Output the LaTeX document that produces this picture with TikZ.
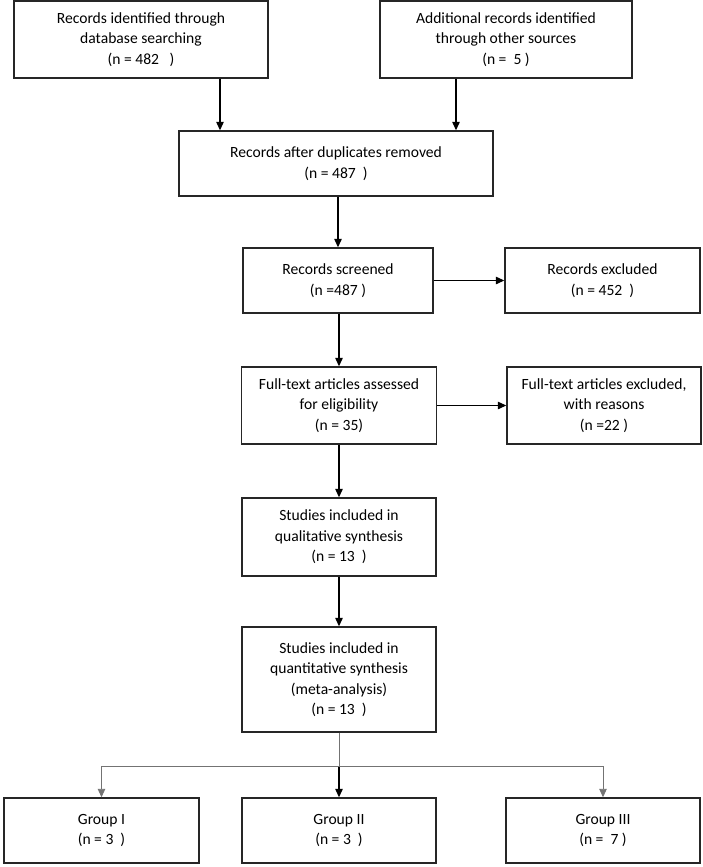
\documentclass[tikz,border=0pt]{standalone}
\usepackage{fontspec}
\setmainfont{Carlito}
\usetikzlibrary{arrows.meta}
\begin{document}
\begin{tikzpicture}[x=1pt,y=-1pt,line width=1.4pt,
    font=\fontsize{15.6}{20.5}\selectfont]
      \useasboundingbox (0,0) rectangle (703,867);

      \begin{scope}[every node/.style={rectangle,draw=black!85,align=center,inner sep=0pt}]
        \node[minimum width=254pt,minimum height=77pt] (1)  at (141,39.5)  {Records identified through\\database searching\\(n = 482~~~)};
        \node[minimum width=252pt,minimum height=77pt] (2)  at (506,39.5)  {Additional records identified\\through other sources\\(n = ~5 )};
        \node[minimum width=314pt,minimum height=65pt] (3)  at (336,163.5) {Records after duplicates removed\\(n = 487~~)};
        \node[minimum width=190pt,minimum height=65pt] (4)  at (338,280.5) {Records screened\\(n =487 )};
        \node[minimum width=195pt,minimum height=65pt] (5)  at (602.5,280.5) {Records excluded\\(n = 452~~)};
        \node[minimum width=195pt,minimum height=77pt] (6)  at (339,405.5) {Full-text articles assessed\\for eligibility\\(n = 35)};
        \node[minimum width=194pt,minimum height=77pt] (7)  at (604,405.5) {Full-text articles excluded,\\with reasons\\(n =22 )};
        \node[minimum width=194pt,minimum height=78pt] (8)  at (339,537)   {Studies included in\\qualitative synthesis\\(n = 13~~)};
        \node[minimum width=194pt,minimum height=105pt] (9) at (339,679.5) {Studies included in\\quantitative synthesis\\(meta-analysis)\\(n = 13~~)};
        \node[minimum width=195pt,minimum height=65pt] (10) at (101.5,830.5) {Group I\\(n = 3~~)};
        \node[minimum width=194pt,minimum height=65pt] (11) at (339,830.5) {Group II\\(n = 3~~)};
        \node[minimum width=194pt,minimum height=65pt] (12) at (603,830.5) {Group III\\(n = ~7 )};
      \end{scope}

      \coordinate (a1) at ([xshift=79pt]1.south);
      \coordinate (a2) at ([xshift=-50pt]2.south);
      \coordinate (split) at (339,766);

      \begin{scope}[every edge/.style={draw=black,line width=1.2pt,-{Triangle[length=8.5pt,width=7.5pt]}}]
        \path (a1) edge (a1 |- 3.north);
        \path (a2) edge (a2 |- 3.north);
        \path (4.north |- 3.south) edge (4.north);
        \path (4)  edge (5);
        \path (4.south -| 6.north) edge (6.north);
        \path (6)  edge (7);
        \path (6)  edge (8);
        \path (8)  edge (9);
        \path (split) edge (11.north);
      \end{scope}

      \begin{scope}[every edge/.style={draw=black!55,line width=0.9pt}]
        \path (9.south) edge (split);
        \path (10.north |- split) edge (12.north |- split);
        \path (10.north |- split) edge[-{Triangle[length=8.5pt,width=7.5pt]}] (10.north);
        \path (12.north |- split) edge[-{Triangle[length=8.5pt,width=7.5pt]}] (12.north);
      \end{scope}

    \end{tikzpicture}
\end{document}
